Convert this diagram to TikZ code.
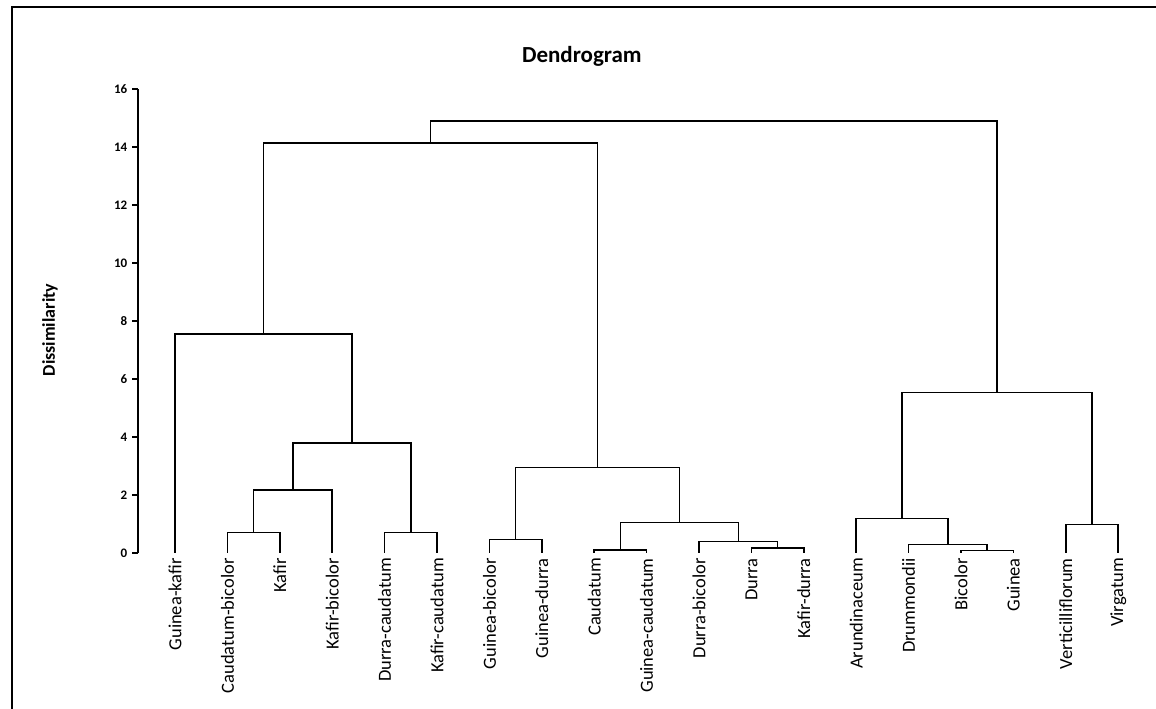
\documentclass[tikz,border=0pt]{standalone}
\usepackage{fontspec}
\setmainfont{Carlito}
\usetikzlibrary{calc}

\begin{document}
\begin{tikzpicture}[
  x=52.4pt, y=29pt,
  branch/.style={draw=black, line width=1.5pt},
  axis/.style={draw=black, line width=1.5pt},
  frame/.style={draw=black, line width=1.8pt},
  leaf/.style={rotate=90, anchor=east, inner sep=0pt, font=\fontsize{18.5}{20}\selectfont},
  ticklabel/.style={left, inner sep=0pt, xshift=-4pt, font=\bfseries\fontsize{13}{14}\selectfont}
]
\useasboundingbox (-2.634,-5.379) rectangle (19.427,19.069);

% Frame round the chart (top and left edges only)
\draw[frame] (-2.405,-5.379) -- (-2.405,18.83) -- (19.427,18.83);

% Title and axis
\node[anchor=base, font=\bfseries\fontsize{23}{26}\selectfont] (title) at (8.47,16.93) {Dendrogram};
\node[rotate=90, font=\bfseries\fontsize{18}{20}\selectfont] (ylabel) at (-1.679,7.69) {Dissimilarity};
\draw[axis] (0,0) -- (0,16);
\foreach \v in {0,2,...,16}
  \draw[axis] (0,\v) -- ++(-6pt,0) node[ticklabel] (tick\v) {\v};

% Leaves
\foreach \name [count=\i] in {Guinea-kafir, Caudatum-bicolor, Kafir, Kafir-bicolor,
    Durra-caudatum, Kafir-caudatum, Guinea-bicolor, Guinea-durra, Caudatum,
    Guinea-caudatum, Durra-bicolor, Durra, Kafir-durra, Arundinaceum, Drummondii,
    Bicolor, Guinea, Verticilliflorum, Virgatum} {
  \coordinate (leaf\i) at (\i-0.294,0);
  \node[leaf] (name\i) at ($(leaf\i)+(0,-5pt)$) {\name};
}

% Merges: name/left/right/height
\foreach \m/\a/\b/\h in {
    cbk/leaf2/leaf3/0.70, kafir/cbk/leaf4/2.17, dck/leaf5/leaf6/0.70,
    kafirdurra/kafir/dck/3.79, left/leaf1/kafirdurra/7.55,
    gbd/leaf7/leaf8/0.47, cgc/leaf9/leaf10/0.10, dkd/leaf12/leaf13/0.17,
    durra/leaf11/dkd/0.39, caudurra/cgc/durra/1.05, middle/gbd/caudurra/2.94,
    cultivated/left/middle/14.13,
    bg/leaf16/leaf17/0.08, dbg/leaf15/bg/0.30, arund/leaf14/dbg/1.19,
    vv/leaf18/leaf19/0.99, wild/arund/vv/5.54,
    root/cultivated/wild/14.9} {
  \coordinate (level) at (0,\h);
  \coordinate (mid) at ($(\a)!0.5!(\b)$);
  \coordinate (\m) at (mid |- level);
  \draw[branch] (\a) |- (\m) -| (\b);
}

\end{tikzpicture}
\end{document}
